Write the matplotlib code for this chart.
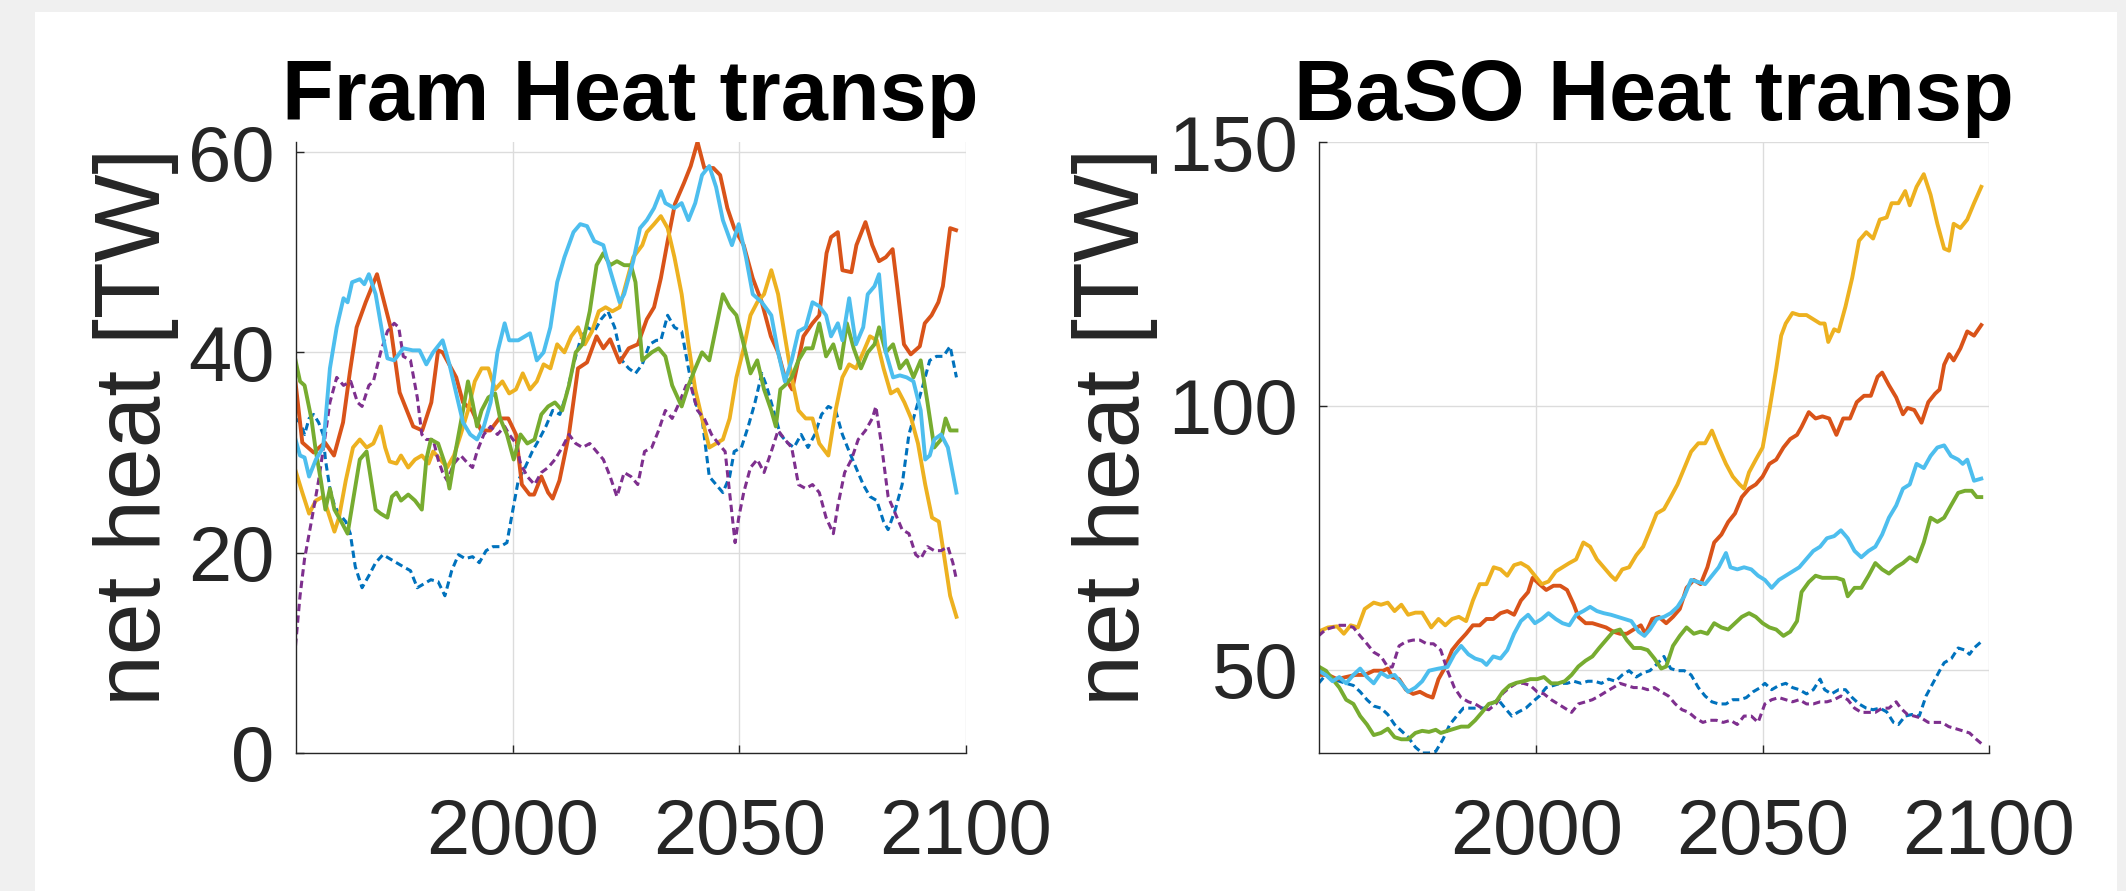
import matplotlib
matplotlib.use("Agg")
import matplotlib.pyplot as plt
from matplotlib.patches import Rectangle

# MATLAB default colour order
c_blue = "#0072BD"
c_red = "#D95319"
c_yel = "#EDB120"
c_pur = "#7E2F8E"
c_grn = "#77AC30"
c_cya = "#4DBEEE"

# ---------------- Fram Strait ----------------
fram_blue_yr = [1952.0, 1953.0, 1954.0, 1955.0, 1956.0, 1957.1, 1958.1, 1958.6, 1959.6, 1960.6, 1961.6, 1963.1,
                1964.1, 1965.2, 1966.7, 1968.2, 1969.7, 1971.3, 1972.8, 1974.3, 1975.8, 1977.4, 1978.9, 1980.4,
                1981.9, 1983.5, 1985.0, 1986.5, 1988.0, 1989.5, 1991.1, 1992.6, 1994.1, 1995.6, 1997.2, 1998.7,
                1999.7, 2001.2, 2002.7, 2004.3, 2005.8, 2007.3, 2008.8, 2010.4, 2011.9, 2013.4, 2014.9, 2016.4,
                2018.0, 2019.5, 2021.0, 2022.5, 2024.1, 2025.6, 2027.1, 2028.6, 2030.2, 2031.7, 2032.7, 2034.2,
                2035.7, 2037.3, 2038.8, 2040.3, 2041.8, 2043.4, 2044.9, 2046.4, 2047.9, 2048.9, 2050.5, 2052.0,
                2053.5, 2055.0, 2056.0, 2057.6, 2059.1, 2060.6, 2062.1, 2063.7, 2065.2, 2066.7, 2068.2, 2069.7,
                2071.3, 2072.8, 2074.3, 2075.8, 2077.4, 2078.9, 2080.4, 2081.9, 2082.9, 2084.5, 2086.0, 2087.5,
                2089.0, 2090.6, 2092.1, 2093.6, 2095.1, 2096.6, 2098.0]
fram_blue = [33.4, 33.0, 31.8, 33.4, 33.8, 33.0, 31.8, 29.3, 26.4, 24.7, 23.9, 23.1,
             21.9, 18.6, 16.5, 17.7, 19.0, 19.8, 19.4, 19.0, 18.6, 18.2, 16.5, 16.9,
             17.3, 17.1, 15.7, 18.2, 19.8, 19.4, 19.6, 19.0, 20.2, 20.6, 20.6, 21.0,
             23.5, 27.2, 28.5, 30.1, 31.3, 32.6, 34.2, 33.8, 35.9, 38.8, 41.2, 42.5,
             42.1, 43.3, 44.1, 42.5, 39.2, 38.4, 37.9, 38.8, 40.8, 41.2, 41.2, 43.7,
             42.5, 42.1, 38.4, 35.0, 33.4, 27.6, 26.8, 26.0, 27.6, 30.1, 30.5, 32.6,
             35.0, 37.9, 36.7, 34.2, 31.8, 31.0, 30.5, 31.8, 30.5, 31.8, 33.8, 34.6,
             34.2, 31.8, 30.1, 28.5, 26.8, 25.6, 25.2, 23.1, 22.3, 24.3, 26.8, 31.8,
             34.2, 36.7, 39.2, 39.6, 39.6, 40.6, 37.5]

fram_red_yr = [1952.0, 1953.5, 1956.0, 1958.5, 1960.5, 1962.5, 1964.0, 1965.5, 1967.5, 1970.0, 1973.0, 1975.0,
               1978.0, 1980.0, 1982.0, 1983.5, 1984.5, 1987.5, 1989.0, 1991.0, 1993.0, 1995.0, 1997.0, 1999.0,
               2000.7, 2002.0, 2003.7, 2004.7, 2006.3, 2007.8, 2008.8, 2010.3, 2012.4, 2014.4, 2016.4, 2018.5,
               2020.0, 2021.5, 2023.6, 2025.6, 2027.6, 2029.6, 2031.2, 2032.7, 2034.2, 2035.8, 2037.8, 2039.3,
               2040.8, 2042.3, 2044.3, 2045.8, 2047.4, 2048.9, 2051.0, 2053.0, 2055.0, 2057.0, 2058.6, 2060.1,
               2061.7, 2062.7, 2064.2, 2066.2, 2067.7, 2069.3, 2070.3, 2071.8, 2072.8, 2074.8, 2075.9, 2077.9,
               2079.4, 2080.9, 2082.4, 2083.9, 2084.9, 2086.4, 2087.9, 2089.9, 2091.0, 2092.5, 2094.0, 2095.0,
               2096.6, 2097.9]
fram_red = [37.0, 31.0, 30.0, 31.0, 29.7, 33.0, 38.0, 42.5, 45.0, 47.8, 42.5, 36.0,
            32.6, 32.2, 35.0, 40.2, 40.0, 37.5, 35.0, 34.2, 32.2, 32.2, 33.4, 33.4,
            31.8, 26.8, 25.8, 25.8, 27.6, 26.0, 25.4, 27.2, 31.8, 38.4, 39.0, 41.6,
            40.4, 41.3, 39.0, 40.4, 40.8, 43.3, 44.5, 47.4, 51.1, 54.8, 56.9, 58.6,
            61.0, 58.4, 58.4, 57.7, 54.4, 52.4, 50.7, 47.4, 45.0, 41.6, 40.0, 37.5,
            36.3, 38.4, 41.6, 42.9, 43.7, 49.9, 51.5, 52.0, 48.2, 48.0, 50.7, 53.0,
            50.7, 49.1, 49.5, 50.3, 46.6, 40.8, 39.8, 40.6, 42.9, 43.7, 45.0, 46.6,
            52.4, 52.2]

fram_yel_yr = [1952.0, 1953.5, 1955.0, 1956.5, 1958.1, 1959.6, 1960.6, 1961.6, 1963.1, 1964.7, 1966.2, 1967.7,
               1969.2, 1970.8, 1971.8, 1972.8, 1974.3, 1975.3, 1976.9, 1978.4, 1979.9, 1981.4, 1982.4, 1984.0,
               1985.5, 1987.0, 1988.5, 1990.1, 1991.6, 1993.1, 1994.6, 1996.1, 1997.7, 1999.2, 2000.7, 2002.2,
               2003.8, 2005.3, 2006.8, 2008.3, 2009.8, 2011.4, 2012.9, 2014.4, 2015.9, 2017.5, 2019.0, 2020.5,
               2022.0, 2023.6, 2025.1, 2026.6, 2028.6, 2029.6, 2031.2, 2032.7, 2034.2, 2035.7, 2037.3, 2038.8,
               2040.3, 2041.8, 2043.4, 2044.9, 2046.4, 2047.9, 2049.4, 2051.0, 2052.5, 2054.0, 2055.5, 2057.1,
               2058.6, 2060.1, 2061.6, 2063.1, 2064.7, 2066.2, 2067.7, 2069.7, 2071.3, 2072.8, 2074.3, 2075.8,
               2077.4, 2078.9, 2080.4, 2081.9, 2083.5, 2085.0, 2086.5, 2088.0, 2089.5, 2091.1, 2092.6, 2094.1,
               2095.1, 2096.6, 2098.0]
fram_yel = [28.2, 26.0, 23.9, 25.2, 25.6, 23.5, 22.1, 23.5, 27.2, 30.5, 31.3, 30.5,
            30.9, 32.6, 30.5, 29.1, 28.9, 29.7, 28.5, 29.3, 29.7, 28.9, 30.1, 29.3,
            28.5, 29.7, 31.8, 34.2, 37.1, 38.4, 38.4, 36.3, 37.1, 35.9, 36.3, 37.9,
            36.3, 37.1, 38.8, 38.4, 40.8, 40.0, 41.6, 42.5, 40.8, 42.1, 44.1, 44.5,
            44.1, 44.5, 47.0, 49.5, 50.7, 52.0, 52.8, 53.6, 52.4, 49.5, 45.8, 40.8,
            36.3, 33.4, 30.5, 30.9, 31.3, 33.4, 37.5, 40.4, 43.7, 45.0, 45.8, 48.2,
            45.8, 41.6, 37.5, 34.2, 33.4, 33.4, 30.9, 29.7, 34.2, 37.5, 38.8, 38.4,
            40.0, 41.6, 41.2, 38.4, 35.9, 36.3, 35.0, 33.4, 30.9, 26.8, 23.5, 23.1,
            20.2, 15.7, 13.6]

fram_pur_yr = [1952.0, 1953.0, 1954.0, 1955.5, 1957.1, 1958.6, 1959.6, 1961.1, 1962.6, 1964.2, 1965.7, 1966.7,
               1968.2, 1969.2, 1970.8, 1972.3, 1973.8, 1974.8, 1975.8, 1977.4, 1978.9, 1979.9, 1980.9, 1982.4,
               1983.5, 1984.5, 1985.5, 1987.0, 1988.5, 1990.1, 1991.1, 1992.1, 1993.6, 1995.1, 1996.6, 1998.2,
               1999.2, 2000.7, 2001.7, 2003.2, 2004.8, 2006.3, 2007.8, 2009.3, 2010.9, 2012.4, 2013.9, 2015.4,
               2017.0, 2018.5, 2020.0, 2021.5, 2023.0, 2024.6, 2026.1, 2027.6, 2029.1, 2030.7, 2032.2, 2033.7,
               2035.2, 2036.8, 2038.3, 2039.3, 2040.8, 2042.3, 2043.9, 2045.4, 2046.9, 2048.4, 2049.1, 2049.9,
               2051.0, 2052.5, 2054.0, 2055.5, 2057.1, 2058.6, 2060.1, 2061.6, 2063.1, 2064.7, 2066.2, 2067.7,
               2069.2, 2070.8, 2071.8, 2073.3, 2074.8, 2076.3, 2077.9, 2079.4, 2080.2, 2081.4, 2082.9, 2084.5,
               2086.0, 2087.5, 2089.0, 2090.1, 2091.6, 2093.1, 2094.6, 2096.1, 2097.2, 2098.0]
fram_pur = [10.7, 15.7, 19.4, 23.1, 27.2, 31.8, 35.0, 37.5, 36.7, 37.1, 35.0, 34.6,
            36.7, 37.1, 40.0, 42.1, 42.9, 42.5, 39.6, 39.2, 35.5, 31.8, 31.3, 31.3,
            29.3, 28.0, 27.2, 28.9, 29.7, 28.9, 28.5, 30.1, 31.8, 32.6, 31.8, 32.6,
            31.8, 30.9, 28.9, 27.6, 26.8, 28.0, 28.5, 29.3, 30.5, 31.8, 30.9, 30.5,
            30.9, 30.1, 29.3, 27.6, 25.6, 28.0, 27.6, 26.8, 30.1, 30.5, 32.2, 34.2,
            33.4, 35.0, 36.7, 36.7, 34.2, 33.4, 31.8, 30.9, 30.1, 23.9, 21.0, 23.5,
            26.0, 28.5, 29.3, 28.0, 30.1, 32.2, 31.3, 30.5, 26.8, 26.4, 26.8, 26.0,
            23.5, 21.9, 24.7, 28.0, 29.3, 31.3, 32.2, 33.4, 34.6, 30.9, 25.6, 23.9,
            22.3, 21.9, 19.8, 19.4, 20.6, 20.2, 20.2, 20.6, 19.0, 17.3]

fram_grn_yr = [1952.0, 1953.0, 1954.0, 1955.5, 1956.5, 1957.6, 1958.6, 1959.6, 1960.6, 1962.1, 1963.5, 1964.7,
               1966.2, 1967.7, 1968.7, 1969.7, 1970.8, 1972.3, 1973.3, 1974.3, 1975.3, 1976.9, 1978.4, 1979.9,
               1980.9, 1981.9, 1983.5, 1985.0, 1986.0, 1987.5, 1989.0, 1990.1, 1991.1, 1992.1, 1993.1, 1994.6,
               1996.1, 1997.2, 1998.7, 2000.2, 2001.7, 2003.2, 2004.8, 2006.3, 2007.8, 2009.3, 2010.9, 2012.4,
               2013.9, 2015.4, 2017.0, 2018.5, 2020.0, 2021.5, 2023.0, 2024.6, 2026.1, 2027.1, 2028.6, 2030.7,
               2032.2, 2033.7, 2035.2, 2037.3, 2038.8, 2040.3, 2041.8, 2043.4, 2044.9, 2046.4, 2047.9, 2049.4,
               2051.0, 2052.5, 2054.0, 2055.5, 2057.1, 2058.1, 2059.1, 2060.1, 2061.6, 2063.1, 2064.7, 2066.2,
               2067.7, 2069.2, 2070.8, 2072.3, 2073.8, 2075.3, 2076.9, 2078.4, 2079.9, 2080.9, 2082.4, 2084.0,
               2085.5, 2087.0, 2088.5, 2090.1, 2091.6, 2093.1, 2094.6, 2095.6, 2096.6, 2098.0]
fram_grn = [39.2, 37.1, 36.7, 33.4, 30.1, 27.2, 24.3, 26.4, 24.3, 23.1, 21.9, 25.2,
            29.3, 30.1, 27.2, 24.3, 23.9, 23.5, 25.6, 26.0, 25.2, 25.8, 25.2, 24.3,
            29.3, 31.3, 30.9, 28.9, 26.4, 30.5, 34.2, 37.1, 35.0, 32.6, 34.2, 35.5,
            35.9, 33.4, 31.8, 29.3, 31.8, 30.9, 31.3, 33.8, 34.6, 35.0, 34.2, 36.7,
            40.0, 40.8, 44.1, 48.7, 49.9, 48.7, 49.1, 48.7, 48.7, 47.0, 39.2, 40.0,
            40.4, 39.6, 36.7, 34.6, 36.7, 38.4, 40.0, 39.2, 42.5, 45.8, 44.5, 43.7,
            40.8, 37.9, 39.2, 36.3, 34.2, 32.6, 36.3, 36.7, 37.5, 39.2, 40.4, 40.4,
            42.9, 39.6, 40.8, 38.4, 42.9, 40.4, 38.4, 40.0, 40.8, 42.5, 40.0, 40.8,
            38.4, 39.2, 37.5, 39.2, 35.0, 30.5, 31.3, 33.4, 32.2, 32.2]

fram_cya_yr = [1952.0, 1953.0, 1954.0, 1955.0, 1956.5, 1958.1, 1959.6, 1961.1, 1962.6, 1963.5, 1964.5, 1966.2,
               1967.2, 1968.2, 1969.7, 1971.3, 1972.3, 1973.8, 1975.8, 1977.9, 1979.4, 1980.9, 1982.4, 1984.5,
               1986.0, 1987.5, 1989.0, 1990.6, 1992.1, 1993.6, 1995.1, 1996.6, 1998.2, 1999.2, 2001.2, 2003.8,
               2005.3, 2006.8, 2008.3, 2009.8, 2011.4, 2013.4, 2014.9, 2016.4, 2018.0, 2020.0, 2021.5, 2023.6,
               2024.6, 2026.6, 2028.1, 2029.6, 2031.2, 2032.7, 2033.7, 2035.7, 2037.3, 2038.8, 2040.3, 2041.8,
               2043.4, 2044.9, 2046.4, 2048.4, 2049.9, 2051.5, 2053.0, 2055.0, 2057.1, 2058.6, 2060.1, 2061.6,
               2063.1, 2064.7, 2066.2, 2067.7, 2069.2, 2070.3, 2071.8, 2072.8, 2074.3, 2075.8, 2077.4, 2078.4,
               2079.9, 2080.9, 2082.4, 2084.0, 2085.5, 2087.0, 2088.5, 2090.1, 2091.1, 2092.1, 2093.1, 2094.6,
               2096.1, 2098.0]
fram_cya = [31.3, 29.7, 29.5, 27.6, 29.3, 30.5, 38.4, 42.5, 45.4, 45.0, 47.0, 47.3,
            46.8, 47.8, 45.8, 41.6, 39.4, 39.2, 40.4, 40.2, 40.2, 38.8, 40.0, 41.2,
            38.8, 35.9, 33.0, 31.8, 31.3, 32.6, 35.0, 40.0, 42.9, 41.2, 41.2, 41.9,
            39.2, 40.0, 42.5, 47.0, 49.5, 52.0, 52.8, 52.6, 51.1, 50.7, 48.2, 45.0,
            45.8, 49.1, 52.4, 53.2, 54.4, 56.1, 54.9, 54.4, 54.9, 53.2, 54.9, 57.7,
            58.6, 56.5, 53.2, 50.7, 52.8, 49.5, 45.8, 45.0, 43.7, 40.0, 37.1, 39.2,
            42.1, 42.5, 45.0, 44.6, 43.7, 41.6, 42.9, 41.2, 45.4, 40.8, 42.5, 45.8,
            46.6, 47.8, 40.0, 37.5, 37.7, 37.5, 37.1, 34.2, 29.3, 29.7, 31.3, 31.8,
            30.5, 26.0]

# ---------------- Barents Sea Opening ----------------
baso_blue_yr = [1951.9, 1953.5, 1955.0, 1956.5, 1958.0, 1959.6, 1961.1, 1962.6, 1964.1, 1965.7, 1967.2, 1968.7,
                1970.2, 1971.7, 1973.3, 1974.8, 1976.3, 1977.8, 1979.4, 1980.9, 1982.4, 1983.9, 1985.5, 1987.0,
                1988.5, 1990.0, 1991.6, 1993.1, 1994.6, 1996.1, 1997.7, 1999.2, 2000.7, 2002.2, 2003.8, 2005.3,
                2006.8, 2008.3, 2009.9, 2011.4, 2012.9, 2014.4, 2016.0, 2017.5, 2019.0, 2020.5, 2022.1, 2023.6,
                2025.1, 2026.6, 2028.2, 2029.7, 2031.2, 2032.7, 2034.2, 2035.8, 2037.3, 2038.8, 2040.3, 2041.9,
                2043.4, 2044.9, 2046.4, 2047.9, 2049.5, 2050.5, 2052.0, 2053.6, 2055.1, 2056.6, 2058.1, 2059.7,
                2061.2, 2062.7, 2063.7, 2065.2, 2066.8, 2068.3, 2069.8, 2071.3, 2072.9, 2074.4, 2075.9, 2077.4,
                2078.9, 2080.0, 2081.5, 2083.0, 2084.6, 2086.1, 2087.6, 2089.1, 2090.1, 2091.7, 2093.2, 2094.7,
                2095.7, 2096.7, 2098.3]
baso_blue = [47.4, 49.0, 48.2, 47.8, 47.4, 47.0, 45.8, 44.3, 43.1, 42.7, 41.5, 39.6,
             38.4, 37.2, 35.3, 34.2, 34.2, 34.5, 36.8, 39.6, 41.2, 42.7, 42.7, 42.7,
             42.7, 43.5, 44.3, 42.7, 41.2, 42.0, 42.7, 43.9, 45.0, 46.6, 47.0, 47.4,
             47.4, 47.8, 47.4, 47.8, 47.8, 47.4, 48.2, 47.8, 49.0, 49.8, 48.6, 49.4,
             49.8, 51.0, 52.5, 50.2, 49.8, 49.8, 49.0, 46.6, 45.0, 43.9, 43.5, 43.5,
             44.3, 44.3, 44.7, 45.8, 46.6, 47.4, 46.2, 47.0, 47.4, 46.6, 46.2, 45.4,
             46.2, 48.2, 46.2, 45.4, 46.2, 46.2, 44.7, 43.5, 42.7, 42.4, 42.7, 42.0,
             40.0, 39.6, 41.2, 41.5, 41.2, 45.0, 47.4, 49.8, 51.3, 52.1, 54.1, 53.7,
             52.9, 54.1, 55.3]

baso_red_yr = [1951.9, 1954.0, 1956.0, 1958.0, 1960.1, 1962.1, 1964.1, 1966.2, 1967.2, 1968.2, 1969.7, 1971.2,
               1972.8, 1974.3, 1975.8, 1977.1, 1978.4, 1979.9, 1981.4, 1982.9, 1984.5, 1986.0, 1987.5, 1989.0,
               1990.5, 1992.1, 1993.6, 1995.1, 1996.6, 1998.2, 1999.2, 2000.7, 2002.2, 2003.8, 2005.3, 2006.8,
               2008.3, 2009.3, 2010.9, 2012.4, 2013.9, 2015.4, 2017.0, 2018.5, 2020.0, 2021.5, 2023.1, 2024.1,
               2025.6, 2027.1, 2028.7, 2030.2, 2031.7, 2033.2, 2034.8, 2036.3, 2037.8, 2039.3, 2040.9, 2042.4,
               2043.9, 2045.4, 2047.0, 2048.5, 2050.0, 2051.5, 2053.0, 2054.6, 2056.1, 2057.6, 2058.6, 2060.2,
               2061.7, 2063.2, 2064.7, 2066.3, 2067.8, 2069.3, 2070.8, 2072.4, 2073.9, 2075.4, 2076.4, 2077.9,
               2079.5, 2081.0, 2082.0, 2083.5, 2085.1, 2086.6, 2088.1, 2089.1, 2090.1, 2091.2, 2092.2, 2093.7,
               2095.2, 2096.7, 2098.3]
baso_red = [49.0, 49.0, 48.2, 48.6, 49.0, 49.0, 49.8, 49.8, 50.2, 48.6, 48.2, 46.2,
            45.4, 45.8, 45.1, 44.7, 48.2, 50.5, 53.7, 55.3, 56.8, 58.4, 58.4, 59.6,
            59.6, 60.7, 61.1, 60.4, 63.1, 64.7, 67.4, 66.2, 65.1, 65.9, 65.9, 65.1,
            62.3, 60.0, 58.8, 58.8, 58.4, 58.0, 57.2, 56.8, 56.8, 57.6, 58.4, 56.8,
            59.6, 60.0, 58.8, 60.0, 61.5, 65.5, 67.0, 66.2, 69.4, 74.1, 75.6, 78.0,
            79.6, 82.7, 84.3, 85.1, 86.6, 89.0, 89.8, 92.1, 93.7, 94.5, 96.0, 98.8,
            97.6, 98.0, 97.6, 94.5, 97.6, 97.6, 100.7, 101.9, 101.9, 105.5, 106.3, 103.9,
            101.6, 98.4, 99.6, 99.2, 96.8, 100.7, 102.3, 103.1, 107.8, 109.8, 108.6, 110.9,
            114.1, 113.3, 115.3]

baso_yel_yr = [1951.9, 1954.0, 1956.0, 1957.5, 1959.0, 1960.6, 1962.1, 1964.1, 1965.7, 1967.2, 1968.7, 1970.2,
               1971.7, 1973.3, 1974.8, 1976.8, 1978.4, 1979.9, 1981.4, 1982.9, 1984.5, 1986.0, 1987.5, 1989.0,
               1990.6, 1992.1, 1993.6, 1995.1, 1996.6, 1998.2, 1999.7, 2001.2, 2002.7, 2004.3, 2005.8, 2007.3,
               2008.8, 2010.4, 2011.9, 2013.4, 2014.9, 2016.5, 2017.5, 2019.0, 2020.5, 2022.1, 2023.6, 2025.1,
               2026.6, 2028.2, 2029.7, 2031.2, 2032.7, 2034.2, 2035.8, 2037.3, 2038.8, 2040.3, 2041.9, 2043.4,
               2044.9, 2045.9, 2047.0, 2048.5, 2050.0, 2051.5, 2053.0, 2054.1, 2055.1, 2056.6, 2058.1, 2059.7,
               2061.2, 2062.7, 2063.7, 2064.5, 2065.8, 2066.8, 2068.3, 2069.8, 2071.3, 2072.9, 2074.4, 2075.9,
               2077.4, 2078.5, 2080.0, 2081.5, 2082.5, 2084.0, 2085.6, 2087.1, 2088.6, 2090.1, 2091.2, 2092.2,
               2093.7, 2095.2, 2096.7, 2098.3]
baso_yel = [57.2, 58.0, 58.2, 56.8, 58.4, 58.0, 61.5, 62.7, 62.3, 62.7, 61.1, 62.3,
            60.4, 60.8, 60.8, 58.0, 59.6, 58.4, 59.6, 60.0, 59.2, 63.1, 66.2, 66.2,
            69.4, 69.0, 67.8, 69.8, 70.2, 69.4, 67.8, 66.2, 66.7, 68.6, 69.4, 70.2,
            70.9, 74.1, 73.3, 70.9, 69.4, 67.8, 67.0, 69.0, 69.4, 71.7, 73.3, 76.4,
            79.6, 80.4, 82.7, 85.1, 88.2, 91.3, 92.9, 92.9, 95.3, 92.1, 89.0, 86.6,
            85.1, 84.3, 87.4, 89.8, 92.1, 99.2, 107.0, 113.3, 115.6, 117.6, 117.2, 117.2,
            116.4, 115.6, 115.6, 112.1, 114.5, 114.1, 118.8, 124.3, 131.3, 132.9, 131.7, 135.3,
            135.7, 138.4, 138.4, 140.7, 138.0, 141.5, 143.9, 140.0, 134.5, 129.8, 129.4, 134.5,
            133.7, 135.3, 138.4, 141.5]

baso_pur_yr = [1951.9, 1953.5, 1955.0, 1956.5, 1958.0, 1959.6, 1961.1, 1962.6, 1964.1, 1965.7, 1967.2, 1968.2,
               1969.7, 1971.2, 1972.8, 1974.3, 1975.8, 1977.3, 1978.9, 1980.4, 1981.9, 1983.4, 1985.0, 1986.5,
               1988.0, 1989.5, 1991.1, 1992.6, 1994.1, 1995.6, 1997.2, 1998.7, 2000.2, 2001.7, 2003.3, 2004.8,
               2006.3, 2007.8, 2009.3, 2010.9, 2012.4, 2013.9, 2015.4, 2017.0, 2018.5, 2020.0, 2021.5, 2023.1,
               2024.6, 2026.1, 2027.6, 2029.2, 2030.7, 2032.2, 2033.7, 2035.2, 2036.8, 2038.3, 2039.8, 2041.3,
               2042.9, 2044.4, 2045.9, 2047.5, 2049.0, 2050.5, 2052.0, 2053.6, 2055.1, 2056.6, 2058.1, 2059.7,
               2061.2, 2062.7, 2064.2, 2065.8, 2067.3, 2068.8, 2070.3, 2071.8, 2073.4, 2074.9, 2076.4, 2077.9,
               2079.5, 2080.5, 2082.0, 2083.5, 2085.1, 2086.6, 2088.1, 2089.6, 2091.1, 2092.7, 2094.2, 2095.7,
               2097.2, 2098.3]
baso_pur = [56.4, 57.6, 58.0, 58.4, 58.4, 58.0, 56.4, 54.9, 53.3, 52.5, 50.5, 50.5,
            54.5, 55.3, 55.6, 55.6, 54.9, 54.9, 53.7, 49.8, 46.6, 44.7, 43.9, 43.5,
            42.7, 42.4, 43.5, 45.5, 46.6, 47.4, 47.4, 47.0, 45.8, 45.4, 44.3, 43.5,
            42.7, 41.9, 43.5, 43.9, 44.3, 45.0, 45.8, 46.6, 47.4, 47.0, 46.6, 46.6,
            46.2, 46.6, 45.8, 45.0, 43.5, 42.4, 41.9, 40.8, 40.0, 40.4, 40.4, 40.0,
            40.4, 39.6, 41.2, 41.2, 40.0, 43.5, 44.3, 44.7, 44.3, 43.9, 44.3, 43.5,
            43.5, 43.9, 43.9, 44.3, 45.0, 44.3, 42.7, 41.9, 41.9, 41.9, 42.7, 42.7,
            43.9, 42.7, 41.5, 41.2, 40.8, 40.0, 40.0, 40.0, 39.2, 38.8, 38.4, 38.0,
            36.8, 36.0]

baso_grn_yr = [1951.9, 1953.5, 1955.0, 1956.5, 1958.0, 1959.6, 1961.1, 1962.6, 1964.1, 1965.7, 1967.2, 1968.7,
               1970.2, 1971.7, 1973.3, 1974.8, 1976.3, 1977.8, 1978.9, 1980.4, 1981.9, 1983.4, 1985.0, 1986.5,
               1988.0, 1989.5, 1991.1, 1992.6, 1994.1, 1995.6, 1997.2, 1998.7, 2000.2, 2001.7, 2003.3, 2004.8,
               2006.3, 2007.8, 2009.3, 2010.9, 2012.4, 2013.9, 2015.4, 2017.0, 2018.5, 2020.0, 2021.5, 2023.1,
               2024.6, 2026.1, 2027.6, 2028.7, 2030.2, 2031.7, 2033.2, 2034.8, 2036.3, 2037.8, 2039.3, 2040.9,
               2042.4, 2043.9, 2045.4, 2047.0, 2048.5, 2050.0, 2051.5, 2053.0, 2054.6, 2056.1, 2057.6, 2058.6,
               2060.2, 2061.7, 2063.2, 2064.7, 2066.3, 2067.8, 2068.8, 2070.3, 2071.8, 2073.4, 2074.9, 2076.4,
               2077.9, 2079.5, 2081.0, 2082.5, 2084.0, 2085.6, 2087.1, 2088.6, 2090.1, 2091.6, 2093.2, 2094.7,
               2096.2, 2097.3, 2098.3]
baso_grn = [50.6, 49.8, 48.2, 46.6, 44.3, 43.5, 41.2, 39.6, 37.6, 38.0, 38.8, 37.2,
            36.8, 36.8, 38.0, 38.4, 38.2, 38.6, 38.0, 38.4, 38.8, 39.2, 39.2, 40.4,
            41.9, 43.5, 43.9, 45.8, 47.0, 47.5, 47.8, 48.2, 48.2, 48.6, 47.4, 47.4,
            47.8, 49.0, 50.6, 51.7, 52.5, 54.1, 55.6, 57.2, 57.6, 55.6, 54.1, 54.1,
            53.7, 52.1, 50.2, 50.6, 54.5, 56.4, 58.0, 56.8, 57.2, 56.8, 58.8, 58.0,
            57.6, 58.8, 60.0, 60.7, 60.0, 58.8, 58.0, 57.6, 56.4, 57.2, 59.2, 64.7,
            66.6, 67.8, 67.4, 67.4, 67.4, 67.0, 63.9, 65.5, 65.5, 67.8, 70.2, 69.0,
            68.2, 69.4, 70.2, 71.3, 70.5, 74.1, 78.8, 78.0, 78.8, 81.1, 83.5, 83.9,
            83.9, 82.7, 82.7]

baso_cya_yr = [1951.9, 1953.5, 1955.0, 1956.5, 1958.0, 1959.6, 1961.1, 1962.6, 1964.1, 1965.7, 1967.2, 1968.7,
               1970.2, 1971.7, 1973.3, 1974.8, 1976.3, 1978.4, 1980.4, 1981.9, 1983.4, 1985.0, 1986.5, 1988.0,
               1989.0, 1990.5, 1992.1, 1993.6, 1995.1, 1996.6, 1998.2, 1999.7, 2001.2, 2002.7, 2004.3, 2005.8,
               2007.3, 2008.8, 2010.4, 2011.9, 2013.4, 2014.9, 2016.5, 2018.0, 2019.5, 2021.0, 2022.6, 2023.9,
               2025.1, 2026.6, 2028.2, 2029.7, 2031.2, 2032.7, 2034.2, 2035.8, 2037.3, 2038.8, 2040.3, 2041.9,
               2042.9, 2044.4, 2045.9, 2047.5, 2049.0, 2050.5, 2052.0, 2053.6, 2055.1, 2056.6, 2058.1, 2059.7,
               2061.2, 2062.7, 2064.2, 2065.8, 2067.3, 2068.8, 2070.3, 2071.8, 2073.4, 2074.9, 2076.4, 2077.9,
               2079.5, 2081.0, 2082.5, 2084.0, 2085.6, 2087.1, 2088.6, 2090.1, 2091.6, 2093.2, 2094.2, 2095.2,
               2096.7, 2098.3]
baso_cya = [49.8, 49.0, 47.8, 48.6, 47.4, 49.0, 50.2, 48.6, 47.4, 49.4, 48.6, 49.0,
            47.4, 45.8, 46.6, 47.8, 49.8, 50.2, 50.5, 52.9, 54.5, 52.9, 52.1, 51.7,
            50.9, 52.5, 52.1, 53.7, 56.8, 59.2, 60.4, 58.8, 59.6, 60.7, 59.6, 58.8,
            58.4, 60.4, 61.1, 61.9, 61.1, 60.7, 60.4, 60.0, 59.6, 59.2, 57.2, 56.4,
            57.6, 59.6, 60.0, 60.7, 61.9, 63.9, 67.0, 66.6, 66.2, 67.8, 69.4, 72.1,
            69.4, 69.0, 69.4, 69.0, 67.8, 67.0, 65.5, 67.0, 67.8, 68.6, 69.4, 71.0,
            72.5, 73.3, 74.9, 75.3, 76.4, 74.9, 72.5, 71.3, 72.5, 73.3, 75.6, 78.8,
            81.1, 84.3, 85.1, 89.0, 88.2, 90.5, 92.1, 92.5, 90.5, 89.8, 89.0, 89.8,
            85.8, 86.2]

panels = [
    ("Fram Heat transp", (0, 61), [0, 20, 40, 60], 0.139,
     [(fram_blue_yr, fram_blue, c_blue, True), (fram_red_yr, fram_red, c_red, False),
      (fram_yel_yr, fram_yel, c_yel, False), (fram_pur_yr, fram_pur, c_pur, True),
      (fram_grn_yr, fram_grn, c_grn, False), (fram_cya_yr, fram_cya, c_cya, False)], -0.174),
    ("BaSO Heat transp", (34.2, 150), [50, 100, 150], 0.6204,
     [(baso_blue_yr, baso_blue, c_blue, True), (baso_red_yr, baso_red, c_red, False),
      (baso_yel_yr, baso_yel, c_yel, False), (baso_pur_yr, baso_pur, c_pur, True),
      (baso_grn_yr, baso_grn, c_grn, False), (baso_cya_yr, baso_cya, c_cya, False)], -0.240),
]

plt.rcParams['font.family'] = ['Liberation Sans', 'DejaVu Sans']

W, H = 2126, 891
fig = plt.figure(figsize=(W / 100, H / 100), dpi=100)
fig.patch.set_facecolor("#f0f0f0")
fig.add_artist(Rectangle((35 / W, 0), (2117 - 35) / W, (H - 12) / H,
                         transform=fig.transFigure, facecolor="white", edgecolor="none", zorder=-5))

txt = "#262626"
for title, ylim, yticks, left, series, lab_x in panels:
    ax = fig.add_axes([left, (H - 753) / H, 670 / W, 611 / H])
    for yr, val, col, dashed in series:
        if dashed:
            ax.plot(yr, val, color=col, lw=2.2, linestyle=(0, (2.4, 1.4)))
        else:
            ax.plot(yr, val, color=col, lw=2.8)
    ax.set_xlim(1952, 2100)
    ax.set_ylim(*ylim)
    ax.set_xticks([2000, 2050, 2100])
    ax.set_yticks(yticks)
    ax.grid(True, color="#dcdcdc", lw=1.0)
    ax.set_axisbelow(True)
    for s in ["top", "right"]:
        ax.spines[s].set_visible(False)
    for s in ["left", "bottom"]:
        ax.spines[s].set_color(txt)
        ax.spines[s].set_linewidth(1.0)
    ax.tick_params(axis="both", direction="in", length=6, width=1.0, color=txt,
                   labelcolor=txt, labelsize=56)
    ax.tick_params(axis="y", pad=15)
    ax.tick_params(axis="x", pad=32)
    ax.set_title(title, fontsize=61, fontweight="bold", color="black", pad=16)
    ax.set_ylabel("net heat [TW]", fontsize=67, color=txt)
    ax.yaxis.set_label_coords(lab_x, 0.533)

fig.savefig("out.png", dpi=100, facecolor=fig.get_facecolor())
